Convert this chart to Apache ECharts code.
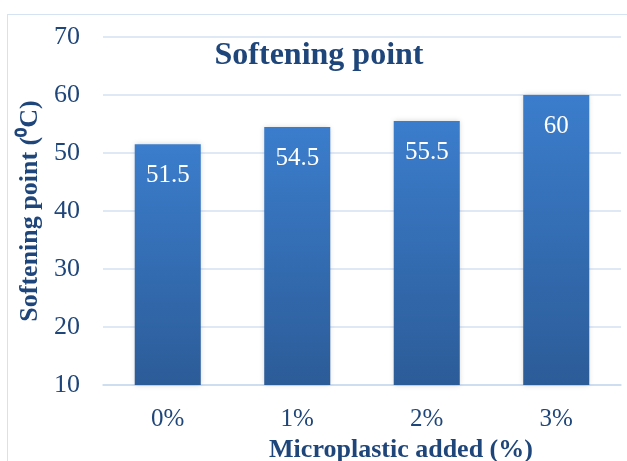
<!DOCTYPE html>
<html>
<head>
<meta charset="utf-8">
<script src="https://cdn.jsdelivr.net/npm/echarts@6/dist/echarts.min.js"></script>
<style>
  html, body { margin: 0; padding: 0; background: #fff; width: 627px; height: 461px; overflow: hidden; position: relative; }
  #frame { position: absolute; left: 7px; top: 14px; width: 620px; height: 447px; border-left: 1.5px solid #d5e2f2; border-top: 1.5px solid #d5e2f2; box-sizing: border-box; }
  #chart { position: absolute; left: 0; top: 0; width: 627px; height: 461px; }
</style>
</head>
<body>
<div id="frame"></div>
<div id="chart"></div>
<script>
// Softening point by microplastic content
const categories = ['0%', '1%', '2%', '3%'];
const softeningPoint = [51.5, 54.5, 55.5, 60];
const yTicks = { min: 10, max: 70, interval: 10 };

const textColor = '#1f467a';
const font = '"Liberation Serif", "Times New Roman", serif';

const chart = echarts.init(document.getElementById('chart'), null, { renderer: 'canvas' });
chart.setOption({
  animation: false,
  title: {
    text: 'Softening point',
    left: 314,
    top: 35,
    textAlign: 'center',
    textStyle: { fontFamily: font, fontSize: 32, fontWeight: 'bold', color: textColor }
  },
  grid: { left: 103, right: 6, top: 37, bottom: 76, containLabel: false, outerBoundsMode: 'none' },
  xAxis: {
    type: 'category',
    data: categories,
    axisTick: { show: false },
    axisLine: { lineStyle: { color: '#c9d9ee', width: 1.5 } },
    axisLabel: { fontFamily: font, fontSize: 25, color: textColor, margin: 22 },
    name: 'Microplastic added (%)',
    nameLocation: 'middle',
    nameGap: 48,
    nameTextStyle: { fontFamily: font, fontSize: 26, fontWeight: 'bold', color: textColor, padding: [0, 0, 0, 78] }
  },
  yAxis: {
    type: 'value',
    min: yTicks.min,
    max: yTicks.max,
    interval: yTicks.interval,
    axisLine: { show: false },
    axisTick: { show: false },
    splitLine: { lineStyle: { color: '#d5e2f2', width: 1.5 } },
    axisLabel: { fontFamily: font, fontSize: 26, color: textColor, margin: 23 },
    name: 'Softening point (\u2070C)',
    nameLocation: 'middle',
    nameGap: 52,
    nameRotate: 90,
    nameTextStyle: { fontFamily: font, fontSize: 26, fontWeight: 'bold', color: textColor }
  },
  series: [{
    type: 'bar',
    data: softeningPoint,
    barWidth: '51%',
    itemStyle: {
      color: new echarts.graphic.LinearGradient(0, 0, 0, 1, [
        { offset: 0, color: '#3b7dcc' },
        { offset: 1, color: '#2c5c98' }
      ]),
      shadowColor: 'rgba(0,0,0,0.18)',
      shadowBlur: 5,
      shadowOffsetX: 0,
      shadowOffsetY: 0
    },
    label: {
      show: true,
      position: 'insideTop',
      distance: 19,
      fontFamily: font,
      fontSize: 25,
      color: '#ffffff'
    }
  }]
});
</script>
</body>
</html>
